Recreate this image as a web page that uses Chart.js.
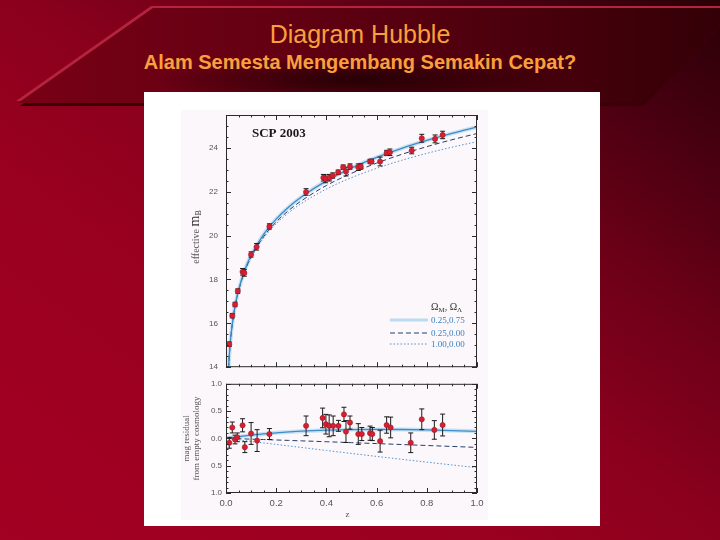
<!DOCTYPE html>
<html>
<head>
<meta charset="utf-8">
<script src="https://cdn.jsdelivr.net/npm/chart.js@4.4.0/dist/chart.umd.min.js"></script>
<style>
    html, body { margin: 0; padding: 0; width: 720px; height: 540px; overflow: hidden; }
    .layer { position: absolute; left: 0; top: 0; width: 720px; height: 540px; }
    #bg {
        background: linear-gradient(to bottom left, #2a0006 0%, #460010 14%, #6a0017 30%, #8a001d 48%, #9a0020 65%, #a30022 100%);
    }
    #bandShadow { background: #3a0008; clip-path: polygon(155px 11px, 720px 11px, 720px 27px, 643px 106px, 20px 106px); }
    #bandLight { background: #b5243f; clip-path: polygon(151px 6px, 720px 6px, 720px 22px, 639px 101px, 16px 101px); }
    #band {
        background:
            radial-gradient(ellipse 210px 24px at 360px 80px, rgba(20,0,2,0.75), rgba(20,0,2,0)),
            linear-gradient(to right, #7a0016 0%, #660013 35%, #4c000d 70%, #340007 100%);
        clip-path: polygon(153px 8px, 720px 8px, 720px 24px, 641px 103px, 18px 103px);
    }
    .title { position: absolute; left: 0; width: 720px; text-align: center; color: #f9a03c;
             font-family: "Liberation Sans", Arial, sans-serif; white-space: nowrap; }
    #heading { top: 21px; font-size: 25px; line-height: 26px; }
    #subheading { top: 52px; font-size: 20px; line-height: 21px; font-weight: bold; }
    #panel { position: absolute; left: 144px; top: 92px; width: 456px; height: 434px; background: #ffffff; }
    #plotBg { position: absolute; left: 181px; top: 110px; width: 307px; height: 410px; background: #fcf7fa; }
    canvas { position: absolute; left: 180px; }
    #hubbleChart { top: 100px; }
    #residualChart { top: 375px; }
</style>
</head>
<body>
<div id="bg" class="layer"></div>
<div id="bandShadow" class="layer"></div>
<div id="bandLight" class="layer"></div>
<div id="band" class="layer"></div>
<div id="heading" class="title">Diagram Hubble</div>
<div id="subheading" class="title">Alam Semesta Mengembang Semakin Cepat?</div>
<div id="panel"></div>
<div id="plotBg"></div>
<canvas id="hubbleChart" width="310" height="280"></canvas>
<canvas id="residualChart" width="310" height="150"></canvas>
<script>
// supernovae, upper panel (redshift, effective m_B, error)
const snZ = [0.013, 0.025, 0.036, 0.047, 0.066, 0.073, 0.100, 0.122, 0.173, 0.319,
             0.388, 0.397, 0.412, 0.425, 0.447, 0.467, 0.478, 0.494, 0.527, 0.537,
             0.574, 0.580, 0.614, 0.640, 0.653, 0.740, 0.780, 0.833, 0.863];
const snMag = [15.05, 16.35, 16.86, 17.47, 18.35, 18.30, 19.14, 19.49, 20.42, 21.99,
               22.64, 22.59, 22.64, 22.74, 22.89, 23.12, 22.92, 23.15, 23.12, 23.15,
               23.38, 23.38, 23.38, 23.77, 23.80, 23.88, 24.44, 24.41, 24.59];
const snMagErr = [0.10, 0.10, 0.10, 0.10, 0.15, 0.15, 0.12, 0.15, 0.12, 0.15,
                  0.15, 0.18, 0.15, 0.12, 0.10, 0.10, 0.20, 0.12, 0.15, 0.12,
                  0.10, 0.10, 0.20, 0.12, 0.15, 0.15, 0.18, 0.18, 0.17];

// lower panel: residual from empty cosmology
const resZ = [0.013, 0.025, 0.036, 0.045, 0.066, 0.075, 0.100, 0.124, 0.173, 0.319,
              0.385, 0.398, 0.411, 0.427, 0.448, 0.470, 0.478, 0.494, 0.527, 0.541,
              0.574, 0.583, 0.614, 0.640, 0.656, 0.736, 0.780, 0.830, 0.863];
const resMag = [-0.08, 0.20, -0.02, 0.02, 0.24, -0.16, 0.09, -0.04, 0.08, 0.23,
                0.375, 0.26, 0.23, 0.23, 0.23, 0.44, 0.125, 0.29, 0.08, 0.08,
                0.095, 0.08, -0.05, 0.245, 0.20, -0.08, 0.35, 0.155, 0.245];
const resErr = [0.10, 0.10, 0.08, 0.08, 0.12, 0.10, 0.20, 0.20, 0.10, 0.18,
                0.18, 0.18, 0.20, 0.18, 0.10, 0.13, 0.20, 0.12, 0.19, 0.12,
                0.13, 0.12, 0.20, 0.15, 0.19, 0.18, 0.19, 0.17, 0.20];

// model curves (OmegaM, OmegaLambda)
const modelLabels = ['0.25,0.75', '0.25,0.00', '1.00,0.00'];
const modelZ = [0.01, 0.015, 0.02, 0.03, 0.04, 0.05, 0.075, 0.1, 0.15, 0.2,
                0.25, 0.3, 0.4, 0.5, 0.6, 0.7, 0.8, 0.9, 1.0];
const lambdaMag = [13.958, 14.847, 15.480, 16.378, 17.019, 17.521, 18.441, 19.105, 20.059, 20.754,
                   21.303, 21.761, 22.497, 23.081, 23.565, 23.980, 24.341, 24.662, 24.949];
const openMag = [13.950, 14.835, 15.464, 16.354, 16.988, 17.482, 18.385, 19.032, 19.956, 20.623,
                 21.148, 21.584, 22.285, 22.841, 23.305, 23.705, 24.056, 24.371, 24.655];
const flatMatterMag = [13.946, 14.829, 15.456, 16.342, 16.972, 17.462, 18.354, 18.991, 19.894, 20.542,
                       21.047, 21.463, 22.125, 22.643, 23.070, 23.434, 23.751, 24.032, 24.283];
const lambdaRes = [0.007, 0.010, 0.013, 0.020, 0.026, 0.032, 0.046, 0.059, 0.082, 0.102,
                   0.118, 0.132, 0.151, 0.162, 0.165, 0.163, 0.155, 0.144, 0.129];
const openRes = [-0.001, -0.002, -0.003, -0.004, -0.005, -0.007, -0.010, -0.014, -0.021, -0.029,
                 -0.037, -0.045, -0.061, -0.078, -0.095, -0.112, -0.130, -0.147, -0.165];
const flatMatterRes = [-0.005, -0.008, -0.011, -0.016, -0.021, -0.027, -0.041, -0.055, -0.083, -0.110,
                       -0.138, -0.166, -0.221, -0.276, -0.330, -0.383, -0.435, -0.486, -0.537];

// axis ticks
const zMajorTicks = [0, 0.2, 0.4, 0.6, 0.8, 1.0];
const magMajorTicks = [14, 16, 18, 20, 22, 24];
const resMajorTicks = [-1.0, -0.5, 0.0, 0.5, 1.0];

const toPoints = (xs, ys) => xs.map((x, i) => ({ x: x, y: ys[i] }));

// error bars as broken line segments, caps drawn with the 'line' point style
const errorBars = (xs, ys, errs) => {
    const pts = [];
    xs.forEach((x, i) => {
        pts.push({ x: x, y: ys[i] - errs[i] }, { x: x, y: ys[i] + errs[i] }, { x: x, y: null });
    });
    return pts;
};

const lineColors = ['#3d8cc6', '#243f6e', '#4f94d2'];
const lineDashes = [[], [5, 3], [1.5, 2]];

function buildDatasets(zs, vals, errs, curves) {
    const sets = [{
        data: toPoints(zs, vals),
        pointStyle: 'circle',
        pointRadius: 2.6,
        backgroundColor: '#d52031',
        borderColor: '#a51424',
        borderWidth: 0.6,
        order: 0
    }, {
        data: errorBars(zs, vals, errs),
        showLine: true,
        spanGaps: false,
        borderColor: '#1a1a1a',
        borderWidth: 1,
        pointStyle: 'line',
        pointRadius: 2.5,
        pointBorderColor: '#1a1a1a',
        pointBorderWidth: 1,
        order: 1
    }, {
        // pale halo under the lambda curve
        data: toPoints(modelZ, curves[0]),
        showLine: true,
        pointRadius: 0,
        borderColor: 'rgba(160,208,238,0.55)',
        borderWidth: 4,
        cubicInterpolationMode: 'monotone',
        order: 5
    }];
    curves.forEach((c, i) => {
        sets.push({
            label: modelLabels[i],
            data: toPoints(modelZ, c),
            showLine: true,
            pointRadius: 0,
            borderColor: lineColors[i],
            borderWidth: i === 0 ? 1.3 : 1,
            borderDash: lineDashes[i],
            cubicInterpolationMode: 'monotone',
            order: 2 + i
        });
    });
    return sets;
}

// inward ticks on all four sides + frame
const frameTicks = {
    id: 'frameTicks',
    afterDatasetsDraw(chart, args, opts) {
        const { ctx, chartArea: a, scales: { x, y } } = chart;
        ctx.save();
        ctx.strokeStyle = '#2a2a2a';
        ctx.lineWidth = 1;
        ctx.strokeRect(a.left + 0.5, a.top + 0.5, a.right - a.left - 1, a.bottom - a.top - 1);
        const isMajor = (v, list) => list.some(m => Math.abs(m - v) < 1e-6);
        const n = Math.round((x.max - x.min) / opts.xMinor);
        for (let i = 0; i <= n; i++) {
            const v = x.min + i * opts.xMinor;
            const px = Math.round(x.getPixelForValue(v)) + 0.5;
            const len = isMajor(v, opts.xMajor) ? 5 : 2.5;
            ctx.beginPath();
            ctx.moveTo(px, a.bottom); ctx.lineTo(px, a.bottom - len);
            ctx.moveTo(px, a.top); ctx.lineTo(px, a.top + len);
            ctx.stroke();
        }
        const m = Math.round((y.max - y.min) / opts.yMinor);
        for (let i = 0; i <= m; i++) {
            const v = y.min + i * opts.yMinor;
            const py = Math.round(y.getPixelForValue(v)) + 0.5;
            const len = isMajor(v, opts.yMajor) ? 5 : 2.5;
            ctx.beginPath();
            ctx.moveTo(a.left, py); ctx.lineTo(a.left + len, py);
            ctx.moveTo(a.right, py); ctx.lineTo(a.right - len, py);
            ctx.stroke();
        }
        ctx.restore();
    }
};

const tickFont = { family: 'Liberation Sans', size: 8 };

function baseScales(yMin, yMax, yMajor, xLabels, yPad) {
    return {
        x: {
            type: 'linear', min: 0, max: 1,
            grid: { display: false, drawTicks: false }, border: { display: false },
            afterBuildTicks: s => { s.ticks = zMajorTicks.map(v => ({ value: v })); },
            ticks: { display: xLabels, padding: 5, color: '#555', font: { family: 'Liberation Sans', size: 9.5 },
                     maxRotation: 0, callback: v => v.toFixed(1) },
            afterFit: s => { s.height = xLabels ? 32 : 11; }
        },
        y: {
            type: 'linear', min: yMin, max: yMax,
            grid: { display: false, drawTicks: false }, border: { display: false },
            afterBuildTicks: s => { s.ticks = yMajor.map(v => ({ value: v })); },
            ticks: { padding: yPad, color: '#555', font: tickFont },
            afterFit: s => { s.width = 46; }
        }
    };
}

// upper panel labels
const hubbleText = {
    id: 'hubbleText',
    afterDraw(chart) {
        const { ctx, chartArea: a } = chart;
        ctx.save();
        ctx.fillStyle = '#1a1a1a';
        ctx.font = 'bold 13px "Liberation Serif"';
        ctx.textBaseline = 'alphabetic';
        ctx.fillText('SCP 2003', a.left + 26, a.top + 22);

        // y title: effective m_B
        ctx.translate(a.left - 30, a.top + 122);
        ctx.rotate(-Math.PI / 2);
        ctx.fillStyle = '#555';
        ctx.font = '10px "Liberation Serif"';
        const w1 = ctx.measureText('effective ').width;
        ctx.font = '14px "Liberation Serif"';
        const w2 = ctx.measureText('m').width;
        ctx.font = '8px "Liberation Serif"';
        const w3 = ctx.measureText('B').width;
        let x0 = -(w1 + w2 + w3) / 2;
        ctx.textBaseline = 'middle';
        ctx.font = '10px "Liberation Serif"';
        ctx.fillText('effective ', x0, 0);
        ctx.font = '14px "Liberation Serif"';
        ctx.fillStyle = '#333';
        ctx.fillText('m', x0 + w1, -1);
        ctx.font = '8px "Liberation Serif"';
        ctx.fillText('B', x0 + w1 + w2, 3);
        ctx.restore();

        // legend, bottom right inside the frame
        ctx.save();
        const lx = 431, sx0 = 390, sx1 = 428;
        const top = chart.canvas.offsetTop;
        const left = chart.canvas.offsetLeft;
        ctx.translate(-left, -top);
        ctx.fillStyle = '#333';
        ctx.textBaseline = 'alphabetic';
        ctx.font = '10px "Liberation Serif"';
        let hx = lx;
        ctx.fillText('\u03a9', hx, 310); hx += ctx.measureText('\u03a9').width;
        ctx.font = '7px "Liberation Serif"';
        ctx.fillText('M', hx, 312); hx += ctx.measureText('M').width;
        ctx.font = '10px "Liberation Serif"';
        ctx.fillText(', \u03a9', hx, 310); hx += ctx.measureText(', \u03a9').width;
        ctx.font = '7px "Liberation Serif"';
        ctx.fillText('\u039b', hx, 312);

        const rows = [323, 336, 347];
        const sets = chart.data.datasets.filter(d => d.label);
        sets.forEach((d, i) => {
            ctx.beginPath();
            ctx.setLineDash(d.borderDash);
            ctx.lineWidth = i === 0 ? 3 : 1;
            ctx.strokeStyle = i === 0 ? '#b9dcf1' : d.borderColor;
            ctx.moveTo(sx0, rows[i] - 3);
            ctx.lineTo(sx1, rows[i] - 3);
            ctx.stroke();
            ctx.setLineDash([]);
            ctx.fillStyle = '#3a80c2';
            ctx.font = '9px "Liberation Serif"';
            ctx.fillText(d.label, lx, rows[i]);
        });
        ctx.restore();
    }
};

// lower panel labels
const residualText = {
    id: 'residualText',
    afterDraw(chart) {
        const { ctx, chartArea: a } = chart;
        ctx.save();
        ctx.fillStyle = '#555';
        ctx.font = '9px "Liberation Serif"';
        ctx.textAlign = 'center';
        ctx.textBaseline = 'middle';
        ctx.fillText('z', (a.left + a.right) / 2 - 4, a.bottom + 22);
        const cy = (a.top + a.bottom) / 2;
        ctx.translate(a.left - 39, cy);
        ctx.rotate(-Math.PI / 2);
        ctx.fillText('mag residual', 0, 0);
        ctx.fillText('from empty cosmology', 0, 10);
        ctx.restore();
    }
};

window.hubbleChartInstance = new Chart(document.getElementById('hubbleChart'), {
    type: 'scatter',
    data: { datasets: buildDatasets(snZ, snMag, snMagErr, [lambdaMag, openMag, flatMatterMag]) },
    options: {
        responsive: false,
        animation: false,
        layout: { padding: { top: 15, right: 13, left: 0, bottom: 0 } },
        scales: baseScales(14, 25.5, magMajorTicks, false, 8),
        plugins: {
            legend: { display: false },
            tooltip: { enabled: false },
            frameTicks: { xMajor: zMajorTicks, xMinor: 0.05, yMajor: magMajorTicks, yMinor: 0.5 }
        }
    },
    plugins: [frameTicks, hubbleText]
});

const residualScales = baseScales(-1, 1, resMajorTicks, true, 4);
residualScales.y.ticks.callback = v => Math.abs(v).toFixed(1);

window.residualChartInstance = new Chart(document.getElementById('residualChart'), {
    type: 'scatter',
    data: { datasets: buildDatasets(resZ, resMag, resErr, [lambdaRes, openRes, flatMatterRes]) },
    options: {
        responsive: false,
        animation: false,
        layout: { padding: { top: 6, right: 13, left: 0, bottom: 0 } },
        scales: residualScales,
        plugins: {
            legend: { display: false },
            tooltip: { enabled: false },
            frameTicks: { xMajor: zMajorTicks, xMinor: 0.05, yMajor: resMajorTicks, yMinor: 0.1 }
        }
    },
    plugins: [frameTicks, residualText]
});
</script>
</body>
</html>
